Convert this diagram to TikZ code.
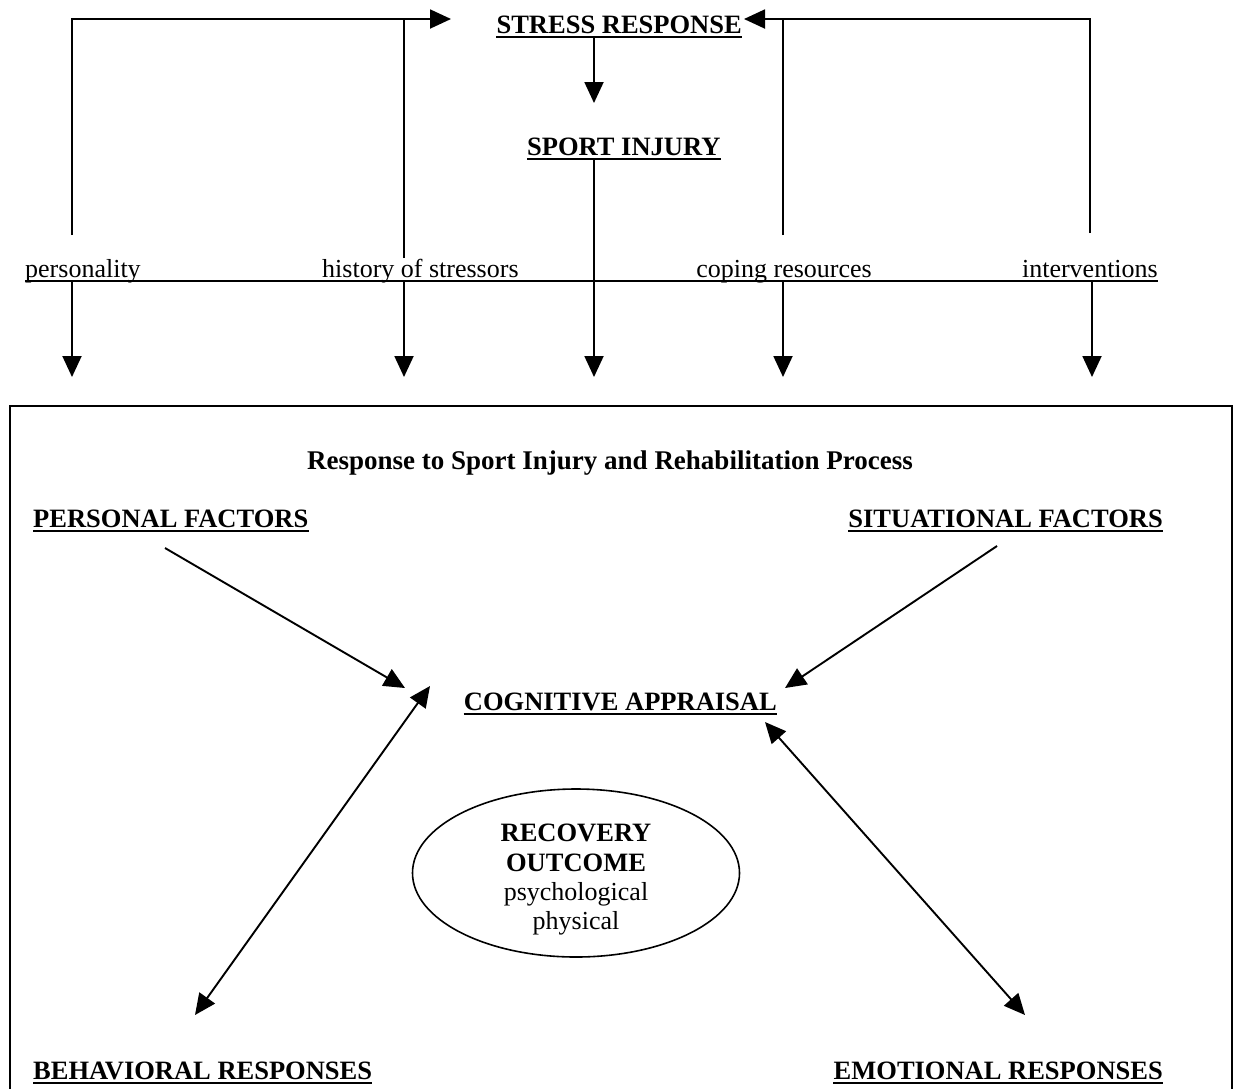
\documentclass[tikz,border=0pt]{standalone}
\usepackage{fontspec}
\setmainfont{Liberation Serif}
\usetikzlibrary{arrows.meta,shapes.geometric}
\begin{document}
\begin{tikzpicture}[x=1pt,y=-1pt,
  txt/.style={inner sep=0pt,font=\fontsize{26}{30}\selectfont},
  btxt/.style={inner sep=0pt,font=\fontsize{26.5}{30}\selectfont\bfseries},
  ttl/.style={inner sep=0pt,font=\fontsize{27}{30}\selectfont\bfseries},
  line/.style={line width=1.9pt},
  ul/.style={line width=1.8pt},
  arr/.style={line width=1.9pt,-{Triangle[length=21pt,width=19pt]}},
  dbl/.style={line width=1.9pt,{Triangle[length=21pt,width=19pt]}-{Triangle[length=21pt,width=19pt]}},
  oval/.style={ellipse,draw,line width=1.6pt,minimum width=327pt,minimum height=168pt,inner sep=0pt}]
\useasboundingbox (0,0) rectangle (1239,1088);

% ---- top chain ----
\node[btxt,anchor=base east] (stress) at (742,33) {STRESS RESPONSE};
\node[btxt,anchor=base west] (injury) at (527,155) {SPORT INJURY};

% ---- moderators on the bar ----
\node[txt,anchor=base west] (pers) at (25,277) {personality};
\node[txt,anchor=base west] (hist) at (322,277) {history of stressors};
\node[txt,anchor=base east] (cope) at (872,277) {coping resources};
\node[txt,anchor=base east] (intv) at (1158,277) {interventions};

\coordinate (barL) at (25,281);
\coordinate (barR) at (1158,281);
\draw[line] (barL) -- (barR);

% feedback lines into the stress response
\coordinate (inL) at (451,19);
\coordinate (inR) at (744,19);
\coordinate (pUp) at (72,235);
\coordinate (hUp) at (404,258);
\coordinate (cUp) at (783,235);
\coordinate (iUp) at (1090,233);
\draw[arr] (pUp) |- (inL);
\draw[line] (hUp) -- (hUp |- inL);
\draw[arr] (iUp) |- (inR);
\draw[line] (cUp) -- (cUp |- inR);

% stress response -> injury -> box
\draw[arr] ([yshift=-4pt]stress.base -| 594,0) -- (594,103);
\coordinate (dI) at (594,377);
\draw[arr] ([yshift=-5pt]injury.base -| 594,0) -- (dI);
\coordinate (dP) at (72,377);
\coordinate (dH) at (404,377);
\coordinate (dC) at (783,377);
\coordinate (dV) at (1092,377);
\draw[arr] (barL -| dP) -- (dP);
\draw[arr] (barL -| dH) -- (dH);
\draw[arr] (barL -| dC) -- (dC);
\draw[arr] (barL -| dV) -- (dV);

% ---- rehabilitation box (open at the bottom) ----
\draw[line] (10,1090) -- (10,406) -- (1232,406) -- (1232,1090);

\node[ttl,anchor=base] (title) at (610,469) {Response to Sport Injury and Rehabilitation Process};
\node[btxt,anchor=base west] (pf) at (33,527) {PERSONAL FACTORS};
\node[btxt,anchor=base east] (sf) at (1163,527) {SITUATIONAL FACTORS};
\node[btxt,anchor=base east] (ca) at (777,710) {COGNITIVE APPRAISAL};
\node[btxt,anchor=base west] (br) at (33,1079) {BEHAVIORAL RESPONSES};
\node[btxt,anchor=base east] (er) at (1163,1079) {EMOTIONAL RESPONSES};

\node[oval] (ro) at (576,873) {};
\node[btxt,anchor=base] (ro1) at (576,841) {RECOVERY};
\node[btxt,anchor=base] (ro2) at (576,871) {OUTCOME};
\node[txt,anchor=base] (ro3) at (576,900) {psychological};
\node[txt,anchor=base] (ro4) at (576,929) {physical};

% underlines
\foreach \n in {stress,injury,pf,sf,ca,br,er}
  \draw[ul] ([yshift=-4pt]\n.base west) -- ([yshift=-4pt]\n.base east);

% appraisal arrows
\coordinate (pfS) at (165,548);
\coordinate (pfT) at (405,688);
\coordinate (sfS) at (997,546);
\coordinate (sfT) at (785,688);
\coordinate (brT) at (195,1015);
\coordinate (caL) at (430,686);
\coordinate (caR) at (765,722);
\coordinate (erT) at (1025,1015);
\draw[arr] (pfS) -- (pfT);
\draw[arr] (sfS) -- (sfT);
\draw[dbl] (caL) -- (brT);
\draw[dbl] (caR) -- (erT);
\end{tikzpicture}
\end{document}
